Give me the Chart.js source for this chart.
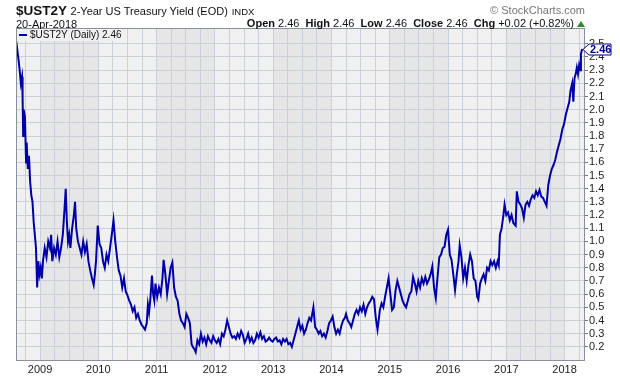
<!DOCTYPE html>
<html>
<head>
<meta charset="utf-8">
<script src="https://cdn.jsdelivr.net/npm/chart.js@4.4.0/dist/chart.umd.min.js"></script>
<style>
  body { margin: 0; background: #fff; font-family: "Liberation Sans", Arial, sans-serif; }
  #wrap { position: relative; width: 620px; height: 376px; }
  #publicChart { position: absolute; left: 0; top: 0; }
  .txt { position: absolute; white-space: nowrap; color: #111; }
  #sym { left: 16px; top: 3px; font-size: 13.5px; font-weight: bold; }
  #sym span.t { font-size: 11px; font-weight: normal; }
  #sym span.x { font-size: 9.5px; font-weight: normal; }
  #date { left: 16px; top: 18px; font-size: 11px; }
  #ohlc { right: 35px; top: 17px; font-size: 11px; }
  #ohlc b { font-weight: bold; }
  #tri { display: inline-block; width: 0; height: 0; border-left: 4px solid transparent; border-right: 4px solid transparent; border-bottom: 6px solid #2e8b2e; margin-left: 3px; }
  #copy { right: 35px; top: 4px; font-size: 11px; color: #777; }
  #legend { left: 17px; top: 29px; font-size: 10px; background: #f0f0f0; padding: 0 3px 1px 2px; line-height: 11px; }
  #legend i { display: inline-block; width: 8px; height: 2px; background: #0000aa; vertical-align: middle; margin-right: 3px; }
</style>
</head>
<body>
<div id="wrap">
  <canvas id="publicChart" width="620" height="376"></canvas>
  <div class="txt" id="sym">$UST2Y <span class="t">2-Year US Treasury Yield (EOD)</span> <span class="x">INDX</span></div>
  <div class="txt" id="date">20-Apr-2018</div>
  <div class="txt" id="copy">&copy; StockCharts.com</div>
  <div class="txt" id="ohlc"><b>Open</b> 2.46 &nbsp;<b>High</b> 2.46 &nbsp;<b>Low</b> 2.46 &nbsp;<b>Close</b> 2.46 &nbsp;<b>Chg</b> +0.02 (+0.82%)<span id="tri"></span></div>
  <div class="txt" id="legend"><i></i>$UST2Y (Daily) 2.46</div>
</div>
<script>
// dates as decimal years
let yieldDates = [
  2008.59, 2008.61, 2008.63, 2008.65, 2008.67, 2008.69, 2008.70, 2008.71, 2008.72, 2008.74,
  2008.76, 2008.77, 2008.79, 2008.81, 2008.83, 2008.85, 2008.87, 2008.89, 2008.91, 2008.93,
  2008.95, 2008.97, 2008.99, 2009.01, 2009.03, 2009.05, 2009.08, 2009.11, 2009.14, 2009.17,
  2009.19, 2009.21, 2009.24, 2009.27, 2009.30, 2009.33, 2009.36, 2009.39, 2009.42, 2009.44,
  2009.46, 2009.48, 2009.50, 2009.52, 2009.55, 2009.58, 2009.60, 2009.62, 2009.65, 2009.68,
  2009.71, 2009.74, 2009.77, 2009.80, 2009.83, 2009.86, 2009.89, 2009.92, 2009.94, 2009.96,
  2009.99, 2010.02, 2010.05, 2010.08, 2010.11, 2010.14, 2010.17, 2010.20, 2010.23, 2010.26,
  2010.29, 2010.32, 2010.35, 2010.38, 2010.41, 2010.44, 2010.47, 2010.50, 2010.53, 2010.56,
  2010.59, 2010.62, 2010.65, 2010.68, 2010.71, 2010.74, 2010.77, 2010.80, 2010.83, 2010.85,
  2010.87, 2010.89, 2010.92, 2010.94, 2010.96, 2010.98, 2011.01, 2011.04, 2011.07, 2011.10,
  2011.12, 2011.15, 2011.18, 2011.21, 2011.24, 2011.27, 2011.30, 2011.33, 2011.36, 2011.39,
  2011.42, 2011.45, 2011.48, 2011.51, 2011.54, 2011.57, 2011.60, 2011.62, 2011.65, 2011.67,
  2011.70, 2011.73, 2011.76, 2011.79, 2011.82, 2011.85, 2011.88, 2011.91, 2011.94, 2011.97,
  2012.00, 2012.03, 2012.06, 2012.09, 2012.12, 2012.15, 2012.18, 2012.21, 2012.24, 2012.27,
  2012.30, 2012.33, 2012.36, 2012.39, 2012.42, 2012.45, 2012.48, 2012.51, 2012.54, 2012.57,
  2012.60, 2012.63, 2012.66, 2012.69, 2012.72, 2012.75, 2012.78, 2012.81, 2012.84, 2012.87,
  2012.90, 2012.93, 2012.96, 2012.99, 2013.02, 2013.05, 2013.08, 2013.11, 2013.14, 2013.17,
  2013.20, 2013.23, 2013.26, 2013.29, 2013.32, 2013.35, 2013.38, 2013.41, 2013.44, 2013.47,
  2013.50, 2013.53, 2013.56, 2013.59, 2013.62, 2013.65, 2013.69, 2013.72, 2013.75, 2013.78,
  2013.81, 2013.84, 2013.87, 2013.90, 2013.93, 2013.96, 2013.99, 2014.02, 2014.05, 2014.08,
  2014.11, 2014.14, 2014.17, 2014.20, 2014.23, 2014.25, 2014.28, 2014.31, 2014.34, 2014.37,
  2014.40, 2014.43, 2014.46, 2014.49, 2014.52, 2014.55, 2014.58, 2014.61, 2014.64, 2014.67,
  2014.70, 2014.73, 2014.76, 2014.79, 2014.81, 2014.83, 2014.86, 2014.89, 2014.92, 2014.95,
  2014.98, 2015.01, 2015.04, 2015.07, 2015.10, 2015.13, 2015.16, 2015.19, 2015.22, 2015.25,
  2015.28, 2015.31, 2015.34, 2015.37, 2015.40, 2015.43, 2015.46, 2015.49, 2015.52, 2015.55,
  2015.58, 2015.61, 2015.64, 2015.67, 2015.70, 2015.73, 2015.76, 2015.79, 2015.82, 2015.85,
  2015.88, 2015.91, 2015.94, 2015.97, 2016.00, 2016.03, 2016.06, 2016.09, 2016.12, 2016.15,
  2016.18, 2016.20, 2016.23, 2016.26, 2016.29, 2016.32, 2016.35, 2016.38, 2016.41, 2016.44,
  2016.47, 2016.50, 2016.52, 2016.55, 2016.58, 2016.61, 2016.64, 2016.67, 2016.70, 2016.73,
  2016.76, 2016.79, 2016.82, 2016.85, 2016.87, 2016.89, 2016.92, 2016.95, 2016.97, 2017.00,
  2017.03, 2017.06, 2017.09, 2017.12, 2017.16, 2017.18, 2017.21, 2017.24, 2017.27, 2017.30,
  2017.33, 2017.36, 2017.39, 2017.42, 2017.45, 2017.48, 2017.51, 2017.54, 2017.57, 2017.60,
  2017.63, 2017.66, 2017.69, 2017.72, 2017.75, 2017.78, 2017.81, 2017.84, 2017.87, 2017.90,
  2017.93, 2017.96, 2017.99, 2018.02, 2018.05, 2018.08, 2018.10, 2018.13, 2018.15, 2018.17,
  2018.19, 2018.21, 2018.23, 2018.25, 2018.27, 2018.28, 2018.30
];
let yieldValues = [
  2.52, 2.45, 2.38, 2.30, 2.20, 2.25, 2.10, 1.80, 2.00, 1.95,
  1.60, 1.75, 1.55, 1.65, 1.45, 1.35, 1.30, 1.15, 1.05, 0.95,
  0.65, 0.85, 0.75, 0.80, 0.72, 0.85, 0.95, 0.88, 1.00, 0.95,
  1.05, 0.85, 0.95, 0.90, 1.00, 0.88, 0.95, 1.05, 1.25, 1.40,
  1.15, 1.00, 1.05, 0.95, 1.10, 1.20, 1.30, 1.10, 1.00, 0.95,
  0.90, 1.00, 0.92, 0.98, 0.85, 0.78, 0.72, 0.67, 0.75, 0.85,
  1.12, 0.98, 0.95, 0.85, 0.80, 0.90, 0.85, 0.95, 1.05, 1.16,
  1.00, 0.88, 0.78, 0.74, 0.65, 0.72, 0.62, 0.59, 0.55, 0.52,
  0.47, 0.50, 0.42, 0.45, 0.40, 0.37, 0.35, 0.33, 0.38, 0.52,
  0.46, 0.55, 0.74, 0.60, 0.55, 0.68, 0.58, 0.65, 0.60, 0.72,
  0.86, 0.75, 0.60, 0.70, 0.80, 0.84, 0.65, 0.58, 0.55, 0.45,
  0.40, 0.38, 0.35, 0.45, 0.42, 0.38, 0.22, 0.20, 0.18, 0.16,
  0.25, 0.22, 0.30, 0.24, 0.27, 0.22, 0.28, 0.25, 0.23, 0.28,
  0.25, 0.23, 0.26, 0.22, 0.30, 0.28, 0.33, 0.40, 0.35, 0.30,
  0.27, 0.28, 0.26, 0.30, 0.27, 0.32, 0.29, 0.23, 0.26, 0.30,
  0.24, 0.27, 0.23, 0.25, 0.30, 0.27, 0.31, 0.26, 0.28, 0.24,
  0.25, 0.27, 0.25, 0.24, 0.26, 0.27, 0.24, 0.25, 0.22, 0.26,
  0.24, 0.26, 0.22, 0.23, 0.20, 0.25, 0.30, 0.35, 0.40, 0.33,
  0.36, 0.30, 0.33, 0.38, 0.42, 0.40, 0.50, 0.35, 0.33, 0.30,
  0.32, 0.28, 0.30, 0.27, 0.32, 0.38, 0.40, 0.43, 0.35, 0.30,
  0.33, 0.30, 0.36, 0.40, 0.42, 0.45, 0.40, 0.38, 0.35, 0.40,
  0.45, 0.48, 0.45, 0.50, 0.47, 0.52, 0.45, 0.50, 0.53, 0.55,
  0.58, 0.56, 0.42, 0.33, 0.40, 0.48, 0.53, 0.50, 0.58, 0.65,
  0.72, 0.60, 0.48, 0.50, 0.63, 0.70, 0.65, 0.60, 0.55, 0.52,
  0.50, 0.55, 0.60, 0.62, 0.73, 0.68, 0.62, 0.70, 0.65, 0.72,
  0.68, 0.73, 0.68, 0.71, 0.75, 0.81, 0.65, 0.57, 0.73, 0.88,
  0.90, 0.95, 0.96, 1.05, 1.09, 0.90, 0.86, 0.75, 0.63, 0.75,
  0.85, 0.97, 0.88, 0.72, 0.80, 0.70, 0.82, 0.90, 0.85, 0.72,
  0.70, 0.58, 0.56, 0.68, 0.72, 0.75, 0.70, 0.80, 0.78, 0.85,
  0.82, 0.85, 0.80, 0.85, 0.82, 1.05, 1.10, 1.20, 1.28, 1.20,
  1.22, 1.16, 1.20, 1.14, 1.12, 1.38, 1.30, 1.28, 1.25, 1.18,
  1.28, 1.30, 1.27, 1.32, 1.35, 1.33, 1.38, 1.35, 1.39, 1.34,
  1.33, 1.30, 1.27, 1.43, 1.50, 1.55, 1.58, 1.62, 1.68, 1.73,
  1.78, 1.85, 1.89, 1.96, 2.01, 2.06, 2.14, 2.20, 2.06, 2.24,
  2.27, 2.32, 2.27, 2.34, 2.30, 2.42, 2.46
];
let yTickValues = [0.2, 0.3, 0.4, 0.5, 0.6, 0.7, 0.8, 0.9, 1.0, 1.1, 1.2, 1.3,
  1.4, 1.5, 1.6, 1.7, 1.8, 1.9, 2.0, 2.1, 2.2, 2.3, 2.4, 2.5];
let yearLabels = [2009, 2010, 2011, 2012, 2013, 2014, 2015, 2016, 2017, 2018];

function quarterTicks() {
    let out = [];
    for (let q = 2008.75; q <= 2018.26; q += 0.25) out.push({ value: Math.round(q * 100) / 100 });
    return out;
}

// alternating yearly shading behind the grid
const yearBands = {
    id: 'yearBands',
    beforeDraw(chart) {
        let ctx = chart.ctx, a = chart.chartArea, x = chart.scales.x;
        ctx.save();
        ctx.fillStyle = '#f0f0f0';
        ctx.fillRect(a.left, a.top, a.right - a.left, a.bottom - a.top);
        ctx.fillStyle = '#e6e6e6';
        yearLabels.forEach(function (yr) {
            if ((yr - 2009) % 2 !== 0) return;
            let l = Math.max(a.left, x.getPixelForValue(yr));
            let r = Math.min(a.right, x.getPixelForValue(yr + 1));
            if (r > l) ctx.fillRect(l, a.top, r - l, a.bottom - a.top);
        });
        ctx.restore();
    },
    afterDraw(chart) {
        let ctx = chart.ctx, a = chart.chartArea;
        ctx.save();
        ctx.strokeStyle = '#8a9099';
        ctx.lineWidth = 1;
        ctx.strokeRect(a.left + 0.5, a.top + 0.5, a.right - a.left - 1, a.bottom - a.top);
        // last value tag
        let last = yieldValues[yieldValues.length - 1];
        let y = Math.round(chart.scales.y.getPixelForValue(last)) + 0.5;
        let r = a.right;
        ctx.beginPath();
        ctx.moveTo(r - 2, y);
        ctx.lineTo(r + 4, y - 5.5);
        ctx.lineTo(r + 26, y - 5.5);
        ctx.lineTo(r + 26, y + 5.5);
        ctx.lineTo(r + 4, y + 5.5);
        ctx.closePath();
        ctx.fillStyle = '#fff';
        ctx.fill();
        ctx.strokeStyle = '#00008b';
        ctx.stroke();
        ctx.fillStyle = '#00008b';
        ctx.font = 'bold 11px "Liberation Sans", Arial';
        ctx.textBaseline = 'middle';
        ctx.fillText(last.toFixed(2), r + 5, y + 0.5);
        ctx.restore();
    }
};

function manageYieldChart() {
    let points = yieldDates.map(function (d, i) { return { x: d, y: yieldValues[i] }; });
    let ctxL = document.getElementById("publicChart").getContext('2d');
    new Chart(ctxL, {
        type: 'line',
        data: {
            datasets: [{
                label: "$UST2Y (Daily)",
                data: points,
                borderColor: '#0000aa',
                borderWidth: 2,
                pointRadius: 0,
                tension: 0,
                fill: false
            }]
        },
        options: {
            responsive: false,
            animation: false,
            layout: { padding: { top: 28, left: 16, right: 0, bottom: 0 } },
            plugins: { legend: { display: false }, tooltip: { enabled: false } },
            scales: {
                x: {
                    type: 'linear',
                    min: 2008.587,
                    max: 2018.35,
                    afterBuildTicks: function (s) { s.ticks = quarterTicks(); },
                    afterFit: function (s) { s.height = 16; },
                    grid: { color: '#c9d0da', drawTicks: false },
                    border: { display: false },
                    ticks: {
                        autoSkip: false,
                        maxRotation: 0,
                        padding: 3,
                        color: '#222',
                        font: { family: '"Liberation Sans", Arial', size: 11 },
                        callback: function (v) {
                            let yr = Math.round(v);
                            return Math.abs(v - yr) < 1e-6 && yearLabels.includes(yr) ? String(yr) : '';
                        }
                    }
                },
                y: {
                    position: 'right',
                    min: 0.1,
                    max: 2.62,
                    afterBuildTicks: function (s) { s.ticks = yTickValues.map(function (v) { return { value: v }; }); },
                    afterFit: function (s) { s.width = 35; },
                    grid: { color: '#c9d0da', tickLength: 3, tickColor: '#777' },
                    border: { display: false },
                    ticks: {
                        autoSkip: false,
                        padding: 1,
                        color: '#222',
                        font: { family: '"Liberation Sans", Arial', size: 11 },
                        callback: function (v) { return v.toFixed(1); }
                    }
                }
            }
        },
        plugins: [yearBands]
    });
}

manageYieldChart();
</script>
</body>
</html>
